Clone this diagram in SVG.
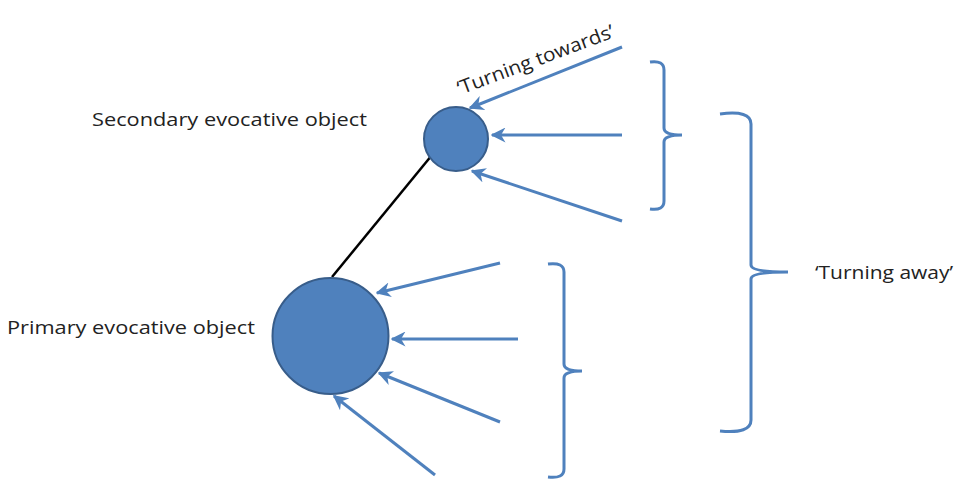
<svg xmlns="http://www.w3.org/2000/svg" width="964" height="487" viewBox="0 0 964 487">
<defs>
<marker id="ah" viewBox="0 0 10 10" refX="9" refY="5" markerWidth="5" markerHeight="5" orient="auto" markerUnits="strokeWidth">
<path d="M0,0 L10,5 L0,10 L3,5 Z" fill="#4f81bd"/>
</marker>
<style>
.arr{stroke:#4f81bd;stroke-width:3;fill:none;marker-end:url(#ah)}
.br{stroke:#4f81bd;stroke-width:3;fill:none}
.node{fill:#4f81bd;stroke:#385d8a;stroke-width:2}
.lbl{font-family:"Open Sans","Liberation Sans",sans-serif;font-size:19px;fill:#222}
</style>
</defs>
<rect width="964" height="487" fill="#fff"/>
<g id="connectors">
<line x1="332" y1="277" x2="432" y2="155" stroke="#000" stroke-width="2.5"/>
<line class="arr" x1="622" y1="47" x2="470" y2="108"/>
<line class="arr" x1="622" y1="135" x2="492" y2="135"/>
<line class="arr" x1="622" y1="221" x2="472" y2="171"/>
<line class="arr" x1="500" y1="263" x2="377" y2="293"/>
<line class="arr" x1="518" y1="339" x2="392" y2="339"/>
<line class="arr" x1="500" y1="422" x2="379" y2="373"/>
<line class="arr" x1="435" y1="475" x2="334" y2="396"/>
</g>
<g id="bracket-towards">
<path class="br" d="M650,62 Q664,60 664,70 L664,128 Q664,135 682,135 Q664,135 664,142 L664,201 Q664,211 650,209"/>
</g>
<g id="bracket-primary">
<path class="br" d="M548,264 Q564,262 564,272 L564,364 Q564,371 582,371 Q564,371 564,378 L564,469 Q564,479 548,477"/>
</g>
<g id="bracket-away">
<path class="br" d="M720,114 Q751,110 751,124 L751,265 Q751,272 788,272 Q751,272 751,279 L751,420 Q751,434 720,431"/>
</g>
<g id="secondary">
<circle class="node" cx="456" cy="139" r="32"/>
<text class="lbl" x="92" y="126" textLength="275" lengthAdjust="spacingAndGlyphs">Secondary evocative object</text>
</g>
<g id="primary">
<circle class="node" cx="330.5" cy="336" r="58"/>
<text class="lbl" x="7" y="334" textLength="248" lengthAdjust="spacingAndGlyphs">Primary evocative object</text>
</g>
<g id="label-towards">
<text class="lbl" transform="translate(460,95) rotate(-20.5)" textLength="166" lengthAdjust="spacingAndGlyphs">‘Turning towards’</text>
</g>
<g id="label-away">
<text class="lbl" x="815" y="279" textLength="138" lengthAdjust="spacingAndGlyphs">‘Turning away’</text>
</g>
</svg>
